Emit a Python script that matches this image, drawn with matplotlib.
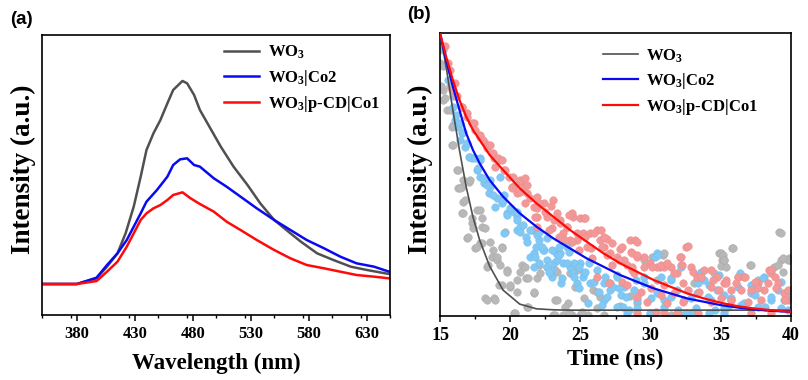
import matplotlib
matplotlib.use('Agg')
import matplotlib.pyplot as plt
from matplotlib.ticker import MultipleLocator

plt.rcParams['font.family'] = ['Liberation Serif', 'DejaVu Serif']
plt.rcParams['font.weight'] = 'bold'
plt.rcParams['mathtext.default'] = 'regular'

# ---- (a) steady-state PL ----
wl_gray = [350, 380, 397, 406, 415, 422, 429, 435, 440, 446, 452, 458, 463, 471, 475,
           481, 486, 495, 504, 515, 527, 538, 550, 564, 573, 587, 601, 616, 630, 649]
pl_gray = [0, 0, 17, 52, 92, 152, 232, 322, 402, 452, 492, 542, 582, 609, 602,
           567, 522, 467, 412, 352, 297, 242, 192, 152, 127, 92, 72, 52, 42, 30]
wl_blue = [350, 380, 397, 406, 415, 423, 429, 435, 440, 449, 458, 463, 469, 475,
           481, 486, 498, 509, 521, 535, 550, 564, 578, 593, 607, 621, 636, 649]
pl_blue = [0, 0, 19, 57, 92, 132, 172, 212, 247, 282, 322, 357, 374, 377,
           357, 352, 317, 292, 262, 227, 192, 162, 132, 107, 82, 62, 52, 37]
wl_red = [350, 380, 397, 406, 415, 423, 429, 435, 440, 446, 452, 458, 463, 471,
          478, 486, 498, 509, 521, 535, 550, 564, 578, 593, 607, 621, 636, 649]
pl_red = [0, 0, 9, 37, 67, 112, 152, 192, 212, 227, 237, 252, 267, 275,
          257, 240, 217, 187, 162, 132, 102, 77, 57, 47, 37, 27, 22, 17]

# ---- (b) TRPL decay, measured points (time ns, counts) ----
pts_gray = [
    (15.0, 758), (15.24, 678), (15.24, 648), (15.48, 618), (15.84, 568), (15.84, 513),
    (16.19, 438), (16.31, 383), (16.67, 408), (16.67, 343), (16.55, 308), (17.03, 403),
    (17.27, 278), (17.63, 318), (17.98, 268), (16.91, 233), (17.51, 203), (17.86, 218),
    (18.34, 148), (18.7, 178), (19.06, 168), (19.42, 208), (19.77, 138), (19.18, 93),
    (20.01, 88), (20.49, 108), (20.85, 153), (21.09, 113), (21.92, 113), (18.22, 53),
    (18.82, 53), (20.25, 8), (21.2, 28), (21.68, 68), (22.11, 128), (22.59, 148),
    (23.19, 48), (23.31, 133), (23.07, 3), (23.78, 3), (24.38, 3), (24.98, 3), (25.57, 3),
    (24.26, 128), (24.74, 138), (26.17, 23), (25.93, 78), (26.41, 58), (27.12, 98),
    (27.6, 123), (30.9, 183), (29.51, 168), (30.11, 178), (30.47, 108), (30.7, 148),
    (33.33, 108), (33.57, 128), (34.52, 128), (34.86, 188), (35.1, 168), (35.0, 150),
    (35.76, 203), (36.19, 118), (37.05, 153), (37.63, 108), (38.82, 148), (39.15, 251),
    (39.27, 168), (39.87, 173), (39.75, 168), (39.42, 133), (29.99, 3), (30.23, 3),
    (28.56, 60), (29.03, 40), (26.65, 3), (31.42, 3), (32.37, 3), (24.09, 40), (25.28, 55),
    (27.84, 30), (15.34, 653), (15.7, 688), (15.1, 688), (15.7, 618), (15.93, 573),
    (15.93, 513), (16.29, 438), (16.53, 388), (17.12, 408), (15.21, 748), (16.41, 383),
    (16.77, 348), (16.65, 308), (17.25, 293), (17.84, 318), (17.96, 293), (17.36, 263),
    (18.2, 263), (17.0, 238), (17.6, 208), (17.96, 218), (18.56, 223), (18.79, 198),
    (19.39, 203), (19.63, 253), (19.03, 178), (18.44, 153), (19.27, 153), (19.75, 133),
    (20.7, 133), (21.06, 148), (21.3, 113), (19.39, 93), (19.99, 93), (20.46, 73),
    (21.66, 73), (18.32, 48), (18.92, 48), (21.3, 28), (20.35, 8), (22.02, 153),
    (23.21, 138), (23.33, 48), (24.64, 88), (26.2, 73), (23.21, 3), (23.93, 28),
    (24.16, 8), (25.12, 13), (30.96, 188), (35.02, 188), (35.26, 168), (35.38, 148),
    (32.16, 153), (33.11, 98), (39.27, 250), (35.86, 203), (35.14, 183), (35.26, 168),
    (39.44, 173), (39.91, 168), (37.17, 153), (39.08, 153),
]
pts_blue = [
    (15.24, 798), (15.48, 758), (15.95, 628), (16.07, 588), (16.31, 568), (16.55, 548),
    (16.43, 528), (16.79, 508), (17.03, 478), (17.27, 473), (17.63, 438), (17.86, 473),
    (17.86, 418), (18.1, 398), (18.46, 368), (18.58, 388), (18.94, 328), (19.06, 353),
    (19.42, 338), (19.53, 363), (19.77, 308), (19.53, 248), (20.25, 313), (20.49, 298),
    (20.49, 258), (20.73, 268), (21.09, 238), (21.2, 223), (21.56, 258), (21.68, 188),
    (21.92, 248), (22.04, 228), (22.4, 198), (22.64, 168), (22.88, 138), (23.0, 118),
    (23.23, 188), (23.11, 158), (21.4, 178), (21.87, 208), (22.35, 198), (22.59, 148),
    (22.83, 128), (23.31, 168), (23.54, 188), (23.78, 158), (24.02, 208), (24.26, 148),
    (24.5, 128), (24.74, 98), (24.98, 158), (25.21, 118), (25.69, 98), (26.17, 138),
    (26.65, 98), (26.65, 48), (27.12, 78), (27.6, 118), (28.08, 88), (28.32, 8),
    (28.79, 78), (29.03, 48), (29.51, 98), (29.99, 8), (30.47, 188), (30.47, 68),
    (30.94, 48), (31.42, 108), (31.9, 78), (32.37, 48), (32.85, 8), (33.33, 68),
    (33.81, 108), (34.28, 48), (34.76, 78), (35.24, 8), (35.72, 48), (36.19, 88),
    (36.67, 38), (37.15, 68), (37.63, 28), (38.1, 118), (38.58, 48), (39.06, 78),
    (39.53, 48), (39.77, 18), (23.62, 98), (25.52, 38), (26.72, 118), (27.32, 88),
    (27.91, 63), (28.03, 28), (30.3, 178), (24.57, 158), (25.28, 128),
    (15.93, 658), (16.17, 603), (16.41, 578), (16.65, 553), (16.89, 518), (17.12, 478),
    (17.48, 473), (17.84, 468), (17.72, 443), (18.08, 413), (18.56, 408), (19.27, 418),
    (18.32, 393), (15.57, 708), (18.79, 363), (19.51, 348), (19.99, 323), (20.47, 313),
    (19.75, 303), (20.47, 288), (20.94, 273), (21.42, 258), (21.9, 243), (20.7, 253),
    (21.78, 178), (21.66, 148), (22.02, 253), (22.62, 233), (22.26, 208), (22.98, 198),
    (23.45, 183), (24.16, 193), (24.04, 158), (24.88, 148), (25.6, 158), (25.36, 133),
    (24.52, 118), (23.69, 113), (22.73, 133), (22.02, 158), (24.88, 83), (25.95, 103),
    (26.31, 73), (26.91, 58), (27.74, 83), (28.22, 58), (26.55, 33), (27.63, 28),
    (28.46, 18), (23.45, 208), (30.49, 183), (32.16, 148), (33.59, 133), (34.9, 123),
    (33.35, 98), (34.19, 93), (31.44, 113), (30.73, 118), (29.53, 118), (28.94, 108),
    (30.01, 53), (31.44, 58), (32.87, 53), (34.07, 58), (35.26, 63), (29.06, 23),
    (30.96, 28), (31.92, 18), (33.23, 23), (34.55, 18), (35.5, 28), (32.52, 8),
    (34.19, 8), (36.33, 128), (38.0, 113), (39.32, 103), (37.17, 93), (35.74, 53),
    (38.6, 58), (40.0, 63), (37.41, 63), (36.45, 33), (38.12, 28), (39.32, 23), (35.26, 23),
]
pts_red = [
    (15.36, 808), (15.6, 758), (15.84, 678), (16.19, 658), (16.55, 628), (16.91, 608),
    (17.39, 578), (17.86, 538), (18.22, 518), (18.34, 503), (18.82, 473), (19.18, 468),
    (19.53, 438), (19.89, 418), (20.13, 388), (20.73, 403), (20.97, 388), (20.49, 368),
    (21.2, 368), (21.92, 358), (21.68, 328), (22.4, 338), (21.92, 298), (22.64, 298),
    (23.0, 263), (23.31, 308), (23.07, 348), (23.54, 288), (23.78, 248), (24.02, 268),
    (24.26, 228), (24.5, 298), (24.74, 228), (24.98, 293), (25.28, 293), (25.21, 248),
    (25.45, 208), (25.69, 248), (26.17, 258), (26.41, 228), (26.65, 208), (27.12, 188),
    (27.6, 178), (28.08, 168), (28.56, 228), (28.86, 228), (29.03, 178), (29.51, 148),
    (29.99, 158), (30.47, 148), (30.94, 148), (31.42, 148), (31.9, 128), (32.52, 208),
    (32.11, 178), (32.23, 153), (32.85, 148), (33.33, 118), (33.81, 138), (34.28, 88),
    (34.76, 118), (35.24, 98), (35.72, 48), (36.19, 118), (36.67, 118), (37.15, 78),
    (37.63, 98), (38.1, 78), (38.44, 138), (38.58, 128), (39.06, 98), (39.53, 68),
    (39.77, 48), (40.0, 78), (37.15, 8), (38.58, 8), (29.03, 8), (30.94, 8), (31.9, 8),
    (24.38, 310), (27.84, 200), (26.89, 230), (22.88, 330),
    (15.7, 738), (16.05, 698), (16.17, 658), (16.53, 628), (16.89, 598), (17.25, 578),
    (17.48, 558), (17.84, 543), (18.08, 528), (18.56, 513), (18.79, 488), (19.15, 473),
    (19.39, 468), (18.92, 448), (19.63, 438), (20.22, 418), (20.7, 408), (21.06, 413),
    (20.35, 393), (21.18, 393), (20.11, 383), (20.7, 373), (21.42, 353), (21.06, 338),
    (21.9, 323), (21.78, 298), (22.02, 338), (22.5, 313), (23.09, 288), (23.57, 278),
    (24.16, 303), (24.04, 268), (25.36, 293), (24.76, 248), (25.36, 238), (25.95, 248),
    (26.43, 258), (26.67, 238), (27.27, 218), (27.99, 208), (28.58, 193), (24.4, 223),
    (25.72, 203), (26.55, 208), (26.91, 183), (27.74, 168), (28.34, 153), (28.7, 138),
    (27.27, 153), (26.2, 118), (27.03, 98), (27.99, 103), (28.34, 93), (21.9, 268),
    (22.73, 258), (23.45, 238), (23.93, 228), (24.88, 198), (25.84, 173),
    (29.06, 223), (28.7, 188), (29.53, 178), (29.06, 183), (30.13, 148), (30.73, 153),
    (31.2, 158), (32.16, 178), (32.64, 209), (31.68, 128), (32.99, 133), (34.3, 138),
    (34.43, 108), (33.59, 118), (32.28, 98), (30.96, 93), (30.01, 83), (29.3, 73),
    (29.06, 58), (29.77, 43), (30.73, 63), (31.68, 68), (32.64, 78), (33.47, 73),
    (34.9, 78), (35.38, 108), (35.02, 53), (34.3, 43), (32.28, 43), (31.2, 38),
    (30.37, 13), (33.35, 10), (28.7, 148), (28.82, 128),
    (38.6, 138), (38.84, 118), (37.41, 103), (36.69, 118), (36.09, 98), (35.38, 98),
    (36.45, 78), (37.65, 83), (38.37, 98), (38.96, 83), (39.8, 78), (37.89, 48),
    (39.56, 48), (35.74, 78), (36.93, 43),
]

# ---- (b) fitted decay curves ----
t_fit = [15.0, 15.43, 15.91, 16.38, 16.86, 17.34, 17.82, 18.53, 19.49, 20.68, 21.87, 23.07,
         24.26, 25.45, 26.65, 27.84, 29.03, 30.23, 31.42, 32.61, 33.81, 35.0, 36.19, 37.39,
         38.58, 40.0]
fit_gray = [848, 748, 618, 498, 388, 298, 228, 150, 78, 36, 22, 19,
            18, 18, 18, 18, 18, 18, 18, 18, 18, 18, 18, 18, 18, 18]
fit_blue = [848, 768, 688, 618, 548, 498, 458, 408, 358, 308, 268, 233,
            203, 173, 148, 123, 103, 83, 68, 53, 43, 33, 26, 20, 16, 13]
fit_red = [848, 778, 708, 648, 598, 558, 528, 483, 438, 383, 338, 298,
           258, 223, 188, 158, 133, 108, 88, 68, 53, 40, 30, 23, 18, 13]

labels = ['WO$_3$', 'WO$_3$|Co2', 'WO$_3$|p-CD|Co1']
line_cols = ['#505050', '#0a0af0', '#ff0a0a']
dot_cols = ['#b8b8b8', '#82c8f4', '#f39898']
dot_edge = ['#a8a8a8', '#70bcec', '#ea8888']

fig = plt.figure(figsize=(8.08, 3.80), dpi=100)
ax1 = fig.add_axes([0.052, 0.171, 0.431, 0.737])
ax2 = fig.add_axes([0.5446, 0.168, 0.4344, 0.745])

# panel a
for wl, pl, c, lb in zip([wl_gray, wl_blue, wl_red], [pl_gray, pl_blue, pl_red], line_cols, labels):
    ax1.plot(wl, pl, color=c, lw=1.8, label=lb)
ax1.set_xlim(350, 650)
ax1.set_ylim(-93, 747)
ax1.xaxis.set_minor_locator(MultipleLocator(25))
ax1.set_xticks(range(380, 650, 50))
ax1.set_xlabel('Wavelength (nm)', fontsize=16.5, fontweight='bold', labelpad=8)
ax1.set_ylabel('Intensity (a.u.)', fontsize=19.5, fontweight='bold')
ax1.yaxis.set_label_coords(-0.017, 0.52)
ax1.legend(loc='upper left', bbox_to_anchor=(0.485, 1.015), frameon=False, fontsize=12,
           handlelength=2.1, handletextpad=0.5, labelspacing=0.38, borderpad=0.3)
ax1.text(-0.092, 1.054, '(a)', transform=ax1.transAxes, fontsize=13.5, fontweight='bold',
         family='Liberation Sans', va='center')

# panel b
for pts, c, e in zip([pts_gray, pts_blue, pts_red], dot_cols, dot_edge):
    t, i = zip(*pts)
    ax2.scatter(t, i, s=30, color=c, edgecolors=e, linewidths=0.3, zorder=2)
for f, c, lb, lw in zip([fit_gray, fit_blue, fit_red], line_cols, labels, [1.2, 1.6, 1.6]):
    ax2.plot(t_fit, f, color=c, lw=lw, label=lb, zorder=3)
ax2.set_xlim(15, 40)
ax2.set_ylim(0, 848)
ax2.xaxis.set_major_locator(MultipleLocator(5))
ax2.xaxis.set_minor_locator(MultipleLocator(2.5))
ax2.set_xlabel('Time (ns)', fontsize=17, fontweight='bold', labelpad=3)
ax2.set_ylabel('Intensity (a.u.)', fontsize=19.5, fontweight='bold')
ax2.yaxis.set_label_coords(-0.02, 0.52)
ax2.legend(loc='upper left', bbox_to_anchor=(0.425, 0.997), frameon=False, fontsize=12,
           handlelength=2.1, handletextpad=0.5, labelspacing=0.38, borderpad=0.3)
ax2.text(-0.094, 1.064, '(b)', transform=ax2.transAxes, fontsize=13.5, fontweight='bold',
         family='Liberation Sans', va='center')

for ax, ls in ((ax1, 12), (ax2, 13)):
    ax.set_yticks([])
    for s in ax.spines.values():
        s.set_linewidth(1.2)
    ax.tick_params(axis='x', which='major', direction='out', length=4, width=1.1,
                   labelsize=ls, pad=4)
    ax.tick_params(axis='x', which='minor', direction='out', length=2.5, width=1.0)
    for lab in ax.get_xticklabels():
        lab.set_fontweight('bold')

fig.savefig('out.png', dpi=100)
